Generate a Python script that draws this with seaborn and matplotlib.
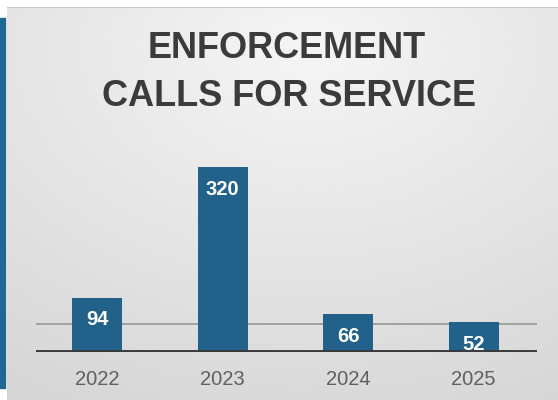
import numpy as np
import pandas as pd
import matplotlib
matplotlib.use("Agg")
import matplotlib.pyplot as plt
from matplotlib.patches import Rectangle
import seaborn as sns

# Data
years = ["2022", "2023", "2024", "2025"]
calls = [94, 320, 66, 52]
reference_level = 48
title_lines = ["ENFORCEMENT", "CALLS FOR SERVICE"]

sns.set_theme(style="white")
plt.rcParams["font.family"] = ["Liberation Sans", "DejaVu Sans"]

W, H, DPI = 558, 400, 100
fig = plt.figure(figsize=(W / DPI, H / DPI), dpi=DPI)
fig.patch.set_facecolor("white")

# Panel with a soft grey gradient background
px0, py0 = 7 / W, 0.0
pw, ph = 1 - px0, (H - 7) / H
bg = fig.add_axes([px0, py0, pw, ph])
yy, xx = np.mgrid[0:1:200j, 0:1:280j]
dist = np.sqrt(((xx - 0.55) / 1.0) ** 2 + ((yy - 0.1) / 1.0) ** 2)
shade = np.clip(0.96 - 0.12 * dist, 0.82, 0.96)
bg.imshow(shade, cmap="gray", vmin=0, vmax=1, extent=[0, 1, 0, 1],
          origin="upper", aspect="auto", interpolation="bicubic")
bg.axhline(1.0, color="#c8c8c8", lw=1.5)
bg.set_axis_off()

# Blue accent strip on the left edge
fig.patches.append(Rectangle((0, 12 / H), 4.5 / W, (388 - 18) / H,
                             transform=fig.transFigure, color="#1e6891", zorder=5))

# Bar chart
ax = fig.add_axes([36 / W, (H - 352) / H, (537 - 36) / W, (352 - 140) / H])
ax.patch.set_alpha(0)
df = pd.DataFrame({"year": years, "calls": calls})
sns.barplot(data=df, x="year", y="calls", color="#22618a", saturation=1,
            width=0.4, linewidth=0, edgecolor="none", ax=ax, zorder=3)
ax.axhline(reference_level, color="#9c9c9c", lw=1.3, zorder=1)
ax.axhline(0, color="#3a3a3a", lw=2.8, zorder=4)
ax.set_xlim(-0.487, 3.505)
ax.set_ylim(0, 367)
for s in ax.spines.values():
    s.set_visible(False)
ax.set_yticks([])
ax.set_xlabel("")
ax.set_ylabel("")
ax.tick_params(axis="x", length=0, pad=13, labelsize=14.5, labelcolor="#606060")

for i, v in enumerate(calls):
    ax.annotate(str(v), (i, v), xytext=(0, -16), textcoords="offset points",
                ha="center", va="center", color="white", fontsize=14.5,
                fontweight="bold", zorder=6)

# Title
fig.text(287 / W, 1 - 49 / H, title_lines[0], ha="center", va="center",
         fontsize=26, fontweight="bold", color="#3b3b3b")
fig.text(289 / W, 1 - 97 / H, title_lines[1], ha="center", va="center",
         fontsize=26, fontweight="bold", color="#3b3b3b")

fig.savefig("out.png", dpi=DPI)
